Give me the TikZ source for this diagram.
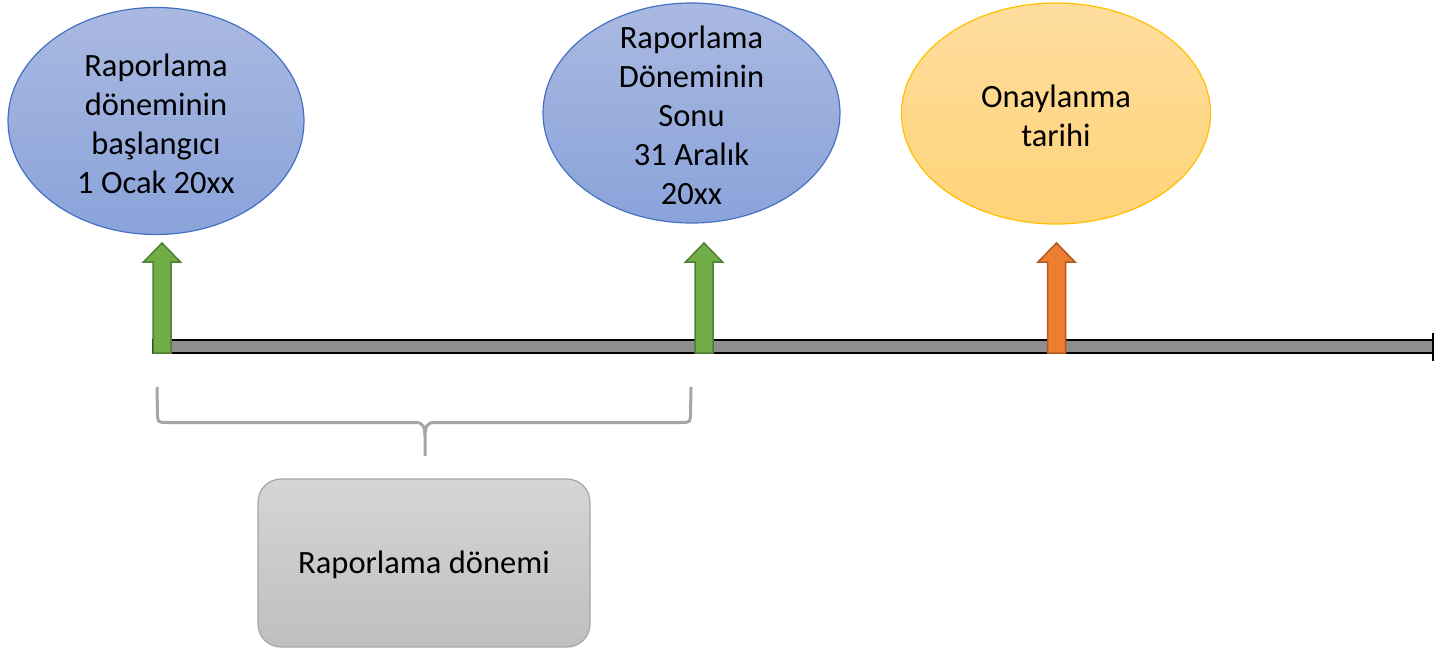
\documentclass[tikz,border=0pt]{standalone}
\usepackage{fontspec}
\setmainfont{Carlito}
\usetikzlibrary{shapes.geometric}
\definecolor{blueedge}{HTML}{4472C4}
\definecolor{bluetop}{HTML}{AAB9E1}
\definecolor{bluebot}{HTML}{8AA3DA}
\definecolor{orgedge}{HTML}{FFC000}
\definecolor{orgtop}{HTML}{FEDD9E}
\definecolor{orgbot}{HTML}{FFD378}
\definecolor{greenfill}{HTML}{70AD47}
\definecolor{greenedge}{HTML}{507E32}
\definecolor{orangefill}{HTML}{ED7D31}
\definecolor{orangeedge}{HTML}{AE5A21}
\definecolor{boxtop}{HTML}{D5D5D5}
\definecolor{boxbot}{HTML}{BFBFBF}
\definecolor{boxedge}{HTML}{A5A5A5}
\definecolor{barfill}{HTML}{8E8E8E}
\definecolor{bracecol}{HTML}{A6A6A6}
\newcommand{\timearrow}[3]{%
  \filldraw[fill=#2, draw=#3, line width=1.5pt, line join=miter]
    (#1-9,353) -- (#1-9,262) -- (#1-18.5,262) -- (#1,243) -- (#1+18.5,262)
    -- (#1+9,262) -- (#1+9,353) -- cycle;}
\begin{document}
\begin{tikzpicture}[x=1pt,y=-1pt,
  txt/.style={font=\fontsize{32.5}{39}\selectfont, align=center, text=black, inner sep=0pt},
  blueell/.style={ellipse, draw=blueedge, line width=1.2pt, top color=bluetop, bottom color=bluebot, inner sep=0pt},
  orgell/.style={ellipse, draw=orgedge, line width=1.2pt, top color=orgtop, bottom color=orgbot, inner sep=0pt},
  periodbox/.style={rectangle, rounded corners=23pt, draw=boxedge, line width=1.2pt, top color=boxtop, bottom color=boxbot, minimum width=332pt, minimum height=168pt},
  bar/.style={fill=barfill, draw=black, line width=1.8pt},
  bracestyle/.style={draw=bracecol, line width=3pt, line cap=butt}
]
\useasboundingbox (0,0) rectangle (1435,649);
\fill[white] (0,0) rectangle (1435,649);

\node[blueell, minimum width=296pt, minimum height=227pt] (e1) at (156,121) {};
\node[txt] (t1) at (156,124) {Raporlama\\döneminin\\başlangıcı\\1 Ocak 20xx};
\node[blueell, minimum width=297pt, minimum height=220pt] (e2) at (691.5,113) {};
\node[txt] (t2) at (691.5,115) {Raporlama\\Döneminin\\Sonu\\31 Aralık\\20xx};
\node[orgell, minimum width=309pt, minimum height=221pt] (e3) at (1056,113.5) {};
\node[txt] (t3) at (1056,116) {Onaylanma\\tarihi};

% timeline
\coordinate (tstart) at (153,346.5);
\coordinate (tend) at (1433,346.5);
\filldraw[bar] (153,340) rectangle (1433,353);
\draw[line width=1.8pt] (1433,333) -- (1433,361);

% arrows
\timearrow{162}{greenfill}{greenedge}
\timearrow{704}{greenfill}{greenedge}
\timearrow{1056.5}{orangefill}{orangeedge}

% brace
\draw[bracestyle] (157,387) -- (157.5,415) .. controls (158,422) .. (165,422.5)
  -- (416,422.5) .. controls (423,422.5) and (425,427) .. (425,436) -- (425,456);
\draw[bracestyle] (691,387) -- (690.5,415) .. controls (690,422) .. (683,422.5)
  -- (434,422.5) .. controls (427,422.5) and (425,427) .. (425,436);

\node[periodbox] (box) at (424,563) {};
\node[txt] (boxtext) at (424,565) {Raporlama dönemi};
\end{tikzpicture}
\end{document}
